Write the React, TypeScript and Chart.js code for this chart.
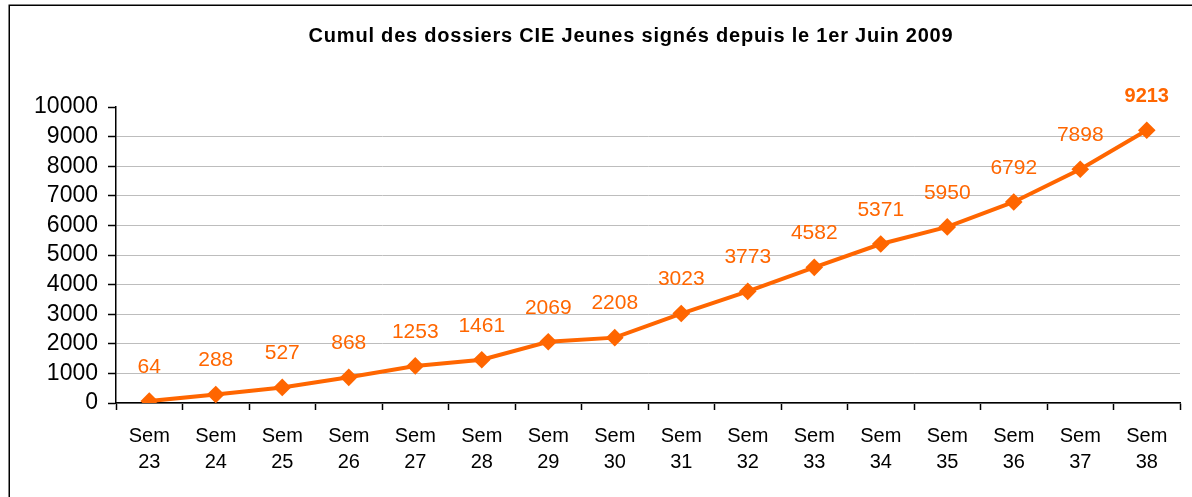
import React, { useEffect, useRef } from "react";
import { Chart, registerables } from "chart.js";

Chart.register(...registerables);

const categories: string[][] = [
  ["Sem", "23"], ["Sem", "24"], ["Sem", "25"], ["Sem", "26"], ["Sem", "27"], ["Sem", "28"],
  ["Sem", "29"], ["Sem", "30"], ["Sem", "31"], ["Sem", "32"], ["Sem", "33"], ["Sem", "34"],
  ["Sem", "35"], ["Sem", "36"], ["Sem", "37"], ["Sem", "38"],
];
const cumulValues: number[] = [64, 288, 527, 868, 1253, 1461, 2069, 2208, 3023, 3773, 4582, 5371, 5950, 6792, 7898, 9213];
const titleText = "Cumul des dossiers CIE Jeunes signés depuis le 1er Juin 2009";

const ORANGE = "#FF6600";
const FONT = "'Liberation Sans', Arial, sans-serif";

const framePlugin = {
  id: "frameAndTitle",
  beforeDraw(chart: any) {
    const ctx = chart.ctx;
    ctx.save();
    ctx.fillStyle = "#ffffff";
    ctx.fillRect(0, 0, chart.width, chart.height);
    ctx.strokeStyle = "#000000";
    ctx.lineWidth = 1.5;
    ctx.strokeRect(9.25, 5.25, 1400, 800);
    ctx.fillStyle = "#000000";
    ctx.font = `bold 20px ${FONT}`;
    (ctx as any).letterSpacing = "0.8px";
    ctx.textAlign = "center";
    ctx.textBaseline = "middle";
    ctx.fillText(titleText, 631, 36);
    ctx.restore();
  },
};

const labelPlugin = {
  id: "pointLabels",
  afterDatasetsDraw(chart: any) {
    const ctx = chart.ctx;
    const meta = chart.getDatasetMeta(0);
    const data = chart.data.datasets[0].data as number[];
    ctx.save();
    ctx.fillStyle = ORANGE;
    ctx.textAlign = "center";
    ctx.textBaseline = "middle";
    meta.data.forEach((pt: any, i: number) => {
      const last = i === data.length - 1;
      ctx.font = last ? `bold 20px ${FONT}` : `21px ${FONT}`;
      ctx.fillText(String(data[i]), pt.x, pt.y - 34);
    });
    ctx.restore();
  },
};

export default function App() {
  const ref = useRef<HTMLCanvasElement | null>(null);
  useEffect(() => {
    if (!ref.current) return;
    const chart = new Chart(ref.current, {
      type: "line",
      data: {
        labels: categories,
        datasets: [
          {
            data: cumulValues,
            borderColor: ORANGE,
            backgroundColor: ORANGE,
            borderWidth: 4,
            pointStyle: "rectRot",
            pointRadius: 6,
            pointBackgroundColor: ORANGE,
            pointBorderColor: ORANGE,
            tension: 0,
          },
        ],
      },
      options: {
        animation: false,
        responsive: false,
        maintainAspectRatio: false,
        layout: { padding: { top: 107, right: 12, left: 0, bottom: 0 } },
        plugins: {
          legend: { display: false },
          title: { display: false },
          tooltip: { enabled: false },
        },
        scales: {
          x: {
            offset: true,
            grid: {
              offset: true,
              drawOnChartArea: false,
              drawTicks: true,
              tickLength: 7,
              tickColor: "#000000",
              tickWidth: 1.5,
            },
            border: { color: "#000000", width: 1.5 },
            ticks: {
              color: "#000000",
              font: { family: FONT, size: 20, lineHeight: 1.3 },
              padding: 13,
              maxRotation: 0,
              autoSkip: false,
            },
            afterFit(scale: any) {
              scale.height = 94;
            },
          },
          y: {
            min: 0,
            max: 10000,
            grid: {
              color: (c: any) => (c.tick && c.tick.value === 10000 ? "rgba(0,0,0,0)" : "#bdbdbd"),
              lineWidth: 1,
              drawTicks: true,
              tickLength: 8,
              tickColor: "#000000",
              tickWidth: 1.5,
            },
            border: { color: "#000000", width: 1.5 },
            ticks: {
              stepSize: 1000,
              autoSkip: false,
              color: "#000000",
              font: { family: FONT, size: 23 },
              padding: 10,
              callback: (v: any) => String(v),
            },
            afterFit(scale: any) {
              scale.width = 116;
            },
          },
        },
      },
      plugins: [framePlugin, labelPlugin],
    });
    return () => chart.destroy();
  }, []);
  return (
    <div style={{ position: "absolute", left: 0, top: 0, width: 1192, height: 497, background: "#fff" }}>
      <canvas ref={ref} width={1192} height={497} style={{ width: 1192, height: 497, display: "block" }} />
    </div>
  );
}
